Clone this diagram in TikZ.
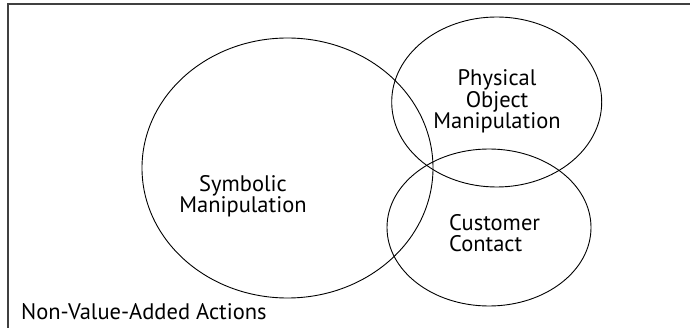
\documentclass[tikz,border=0pt]{standalone}
\usepackage{fontspec}
\setmainfont{PT Sans}
\usetikzlibrary{positioning}

\begin{document}
\begin{tikzpicture}[x=1pt,y=-1pt]
	\tikzset{set/.style={draw=black,line width=0.9pt}}
	\tikzset{setlabel/.style={font=\fontsize{22.5}{21.5}\selectfont,inner sep=0pt}}
	\useasboundingbox (0,0) rectangle (690,328);
	% frame: only the top and left edges show
	\draw[line width=1.8pt,draw=black!75] (690,4) -- (8,4) -- (8,328);
	% the three sets
	\draw[set] (287.5,168) ellipse [x radius=145.5,y radius=130];
	\draw[set] (496.7,102) ellipse [x radius=105,y radius=85];
	\draw[set] (489,227.5) ellipse [x radius=102,y radius=78.5];
	\node[setlabel,align=center] (symb) at (243,196) {Symbolic\\Manipulation};
	\node[setlabel,align=center] (phys) at (497,101.5) {Physical\\Object\\Manipulation};
	\node[setlabel,align=left,anchor=west] (cust) at (449,233) {Customer\\Contact};
	\node[setlabel,anchor=west] (nva) at (21,311.7) {Non-Value-Added Actions};
\end{tikzpicture}
\end{document}
